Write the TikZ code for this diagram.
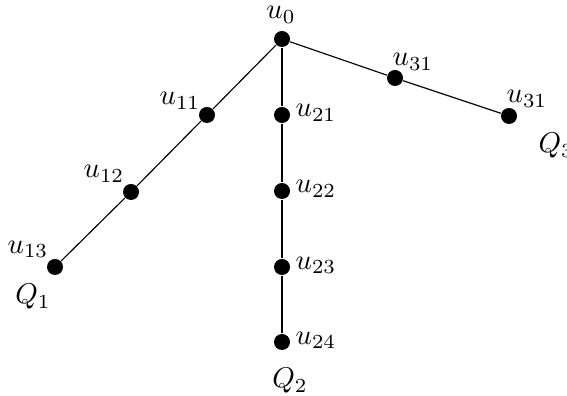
\documentclass[tikz,border=0pt]{standalone}
\usepackage{tikz}
\usetikzlibrary{positioning}

\tikzset{
  vtx/.style={circle, fill=black, inner sep=0pt, minimum size=5.6pt},
  lbl/.style={inner sep=0pt, font=\normalsize},
  edge/.style={draw=black, line width=0.4pt}
}

\begin{document}
\begin{tikzpicture}[x=0.35pt, y=-0.35pt]
  \useasboundingbox (0,0) rectangle (567,396);

  %% vertices
  \node[vtx] (u0) at (282,39) {};
  \foreach \n/\x/\y in {11/207/115, 12/131/192, 13/55/267}{
    \node[vtx] (u\n) at (\x,\y) {};
  }
  \foreach \n/\y in {21/115, 22/191, 23/267, 24/342}{
    \node[vtx] (u\n) at (282,\y) {};
  }
  \node[vtx] (u31a) at (395,78) {};
  \node[vtx] (u31b) at (509,116) {};

  %% paths
  \draw[edge] (u0) -- (u11) -- (u12) -- (u13);
  \draw[edge] (u0) -- (u21) -- (u22) -- (u23) -- (u24);
  \draw[edge] (u0) -- (u31a) -- (u31b);

  %% vertex labels
  \node[lbl] (l0) at (281,15) {$u_0$};
  \node[lbl] (l11) at (180,101) {$u_{11}$};
  \node[lbl] (l12) at (104,174) {$u_{12}$};
  \node[lbl] (l13) at (28,249) {$u_{13}$};
  \foreach \n/\y in {21/113, 22/189, 23/265, 24/340}{
    \node[lbl] (l\n) at (316,\y) {$u_{\n}$};
  }
  \node[lbl] (l31a) at (413,62) {$u_{31}$};
  \node[lbl] (l31b) at (527,99) {$u_{31}$};

  %% path names
  \node[lbl] (q1) at (33,297) {$Q_1$};
  \node[lbl] (q2) at (290,381) {$Q_2$};
  \node[lbl, anchor=west] (q3) at (538,146) {$Q_3$};

\end{tikzpicture}
\end{document}
